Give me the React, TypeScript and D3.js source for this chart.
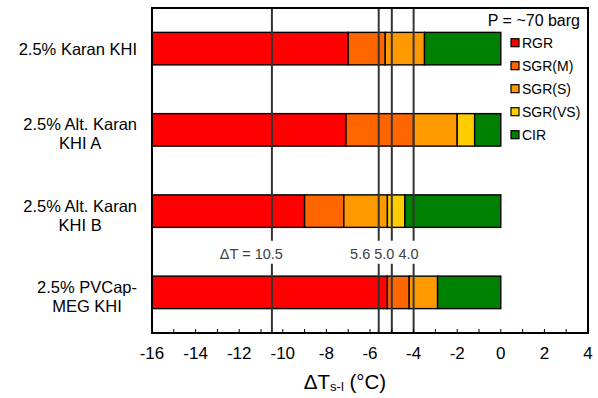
import { useEffect, useRef } from "react";
import * as d3 from "d3";

// bar labels (one entry per line)
const categories = [
  ["2.5% Karan KHI"],
  ["2.5% Alt. Karan", "KHI A"],
  ["2.5% Alt. Karan", "KHI B"],
  ["2.5% PVCap-", "MEG KHI"],
];

const seriesNames = ["RGR", "SGR(M)", "SGR(S)", "SGR(VS)", "CIR"];
const seriesColors = ["#ff0000", "#ff6600", "#ff9900", "#ffcc00", "#008000"];

// width of each region (°C), stacked from -16
const rgr = [9.0, 8.9, 7.0, 10.8];
const sgrM = [1.7, 3.1, 1.8, 1.0];
const sgrS = [1.8, 2.0, 2.0, 1.3];
const sgrVS = [0, 0.8, 0.8, 0];
const cir = [3.5, 1.2, 4.4, 2.9];

const refLines = [-10.5, -5.6, -5.0, -4.0];
const xTicks = d3.range(-16, 5, 1);

const W = 598;
const H = 398;
const margin = { top: 8, right: 10, bottom: 65, left: 152 };

const App = () => {
  const labelsRef = useRef<SVGGElement>(null);

  const x = d3.scaleLinear().domain([-16, 4]).range([margin.left, W - margin.right]);
  const y = d3
    .scaleBand()
    .domain(categories.map((_, i) => String(i)))
    .range([margin.top, H - margin.bottom])
    .paddingInner(0.6)
    .paddingOuter(0.3);

  const rows = categories.map((_, i) => ({
    RGR: rgr[i],
    "SGR(M)": sgrM[i],
    "SGR(S)": sgrS[i],
    "SGR(VS)": sgrVS[i],
    CIR: cir[i],
  }));
  const stacked = d3.stack<any>().keys(seriesNames)(rows);

  const top = margin.top;
  const bottom = H - margin.bottom;
  const gapMid = (y("2")! + y.bandwidth() + y("3")!) / 2;
  const font = "'Liberation Sans', Arial, sans-serif";

  // right-align each label block, centring its lines
  useEffect(() => {
    const g = d3.select(labelsRef.current);
    g.selectAll<SVGGElement, unknown>("g.lbl").each(function () {
      const w = this.getBBox().width;
      d3.select(this)
        .selectAll("text")
        .attr("x", margin.left - 15 - w / 2);
    });
  }, []);

  return (
    <svg width={W} height={H} style={{ position: "absolute", left: 0, top: 0 }} fontFamily={font}>
      <rect x={0} y={0} width={W} height={H} fill="#fff" />

      {stacked.map((s, si) =>
        s.map((d, i) =>
          d[1] - d[0] > 0 ? (
            <rect
              key={`${si}-${i}`}
              x={x(-16 + d[0])}
              y={y(String(i))}
              width={x(-16 + d[1]) - x(-16 + d[0])}
              height={y.bandwidth()}
              fill={seriesColors[si]}
              stroke="#000"
              strokeWidth={1.4}
            />
          ) : null
        )
      )}

      {refLines.map((v) => (
        <g key={v} stroke="#333" strokeWidth={2}>
          <line x1={x(v)} x2={x(v)} y1={top} y2={gapMid - 11} />
          <line x1={x(v)} x2={x(v)} y1={gapMid + 12} y2={bottom} />
        </g>
      ))}
      <text x={x(-10.5) + 11} y={gapMid + 7} fontSize={14.5} fill="#404040" textAnchor="end">
        ΔT = 10.5
      </text>
      <text x={x(-4.0) + 5} y={gapMid + 7} fontSize={14.5} fill="#404040" textAnchor="end">
        5.6 5.0 4.0
      </text>

      <rect
        x={x(-16)}
        y={top}
        width={x(4) - x(-16)}
        height={bottom - top}
        fill="none"
        stroke="#000"
        strokeWidth={2}
      />

      {xTicks.map((t) => (
        <g key={t}>
          <line x1={x(t)} x2={x(t)} y1={bottom} y2={bottom - 4} stroke="#000" strokeWidth={1} />
          {t % 2 === 0 && (
            <text x={x(t)} y={bottom + 26} fontSize={17} textAnchor="middle" fill="#000">
              {t}
            </text>
          )}
        </g>
      ))}

      <text x={345} y={389} fontSize={20.5} textAnchor="middle" fill="#000">
        ΔT
        <tspan fontSize={13} dy={2}>s-l</tspan>
        <tspan dy={-2}> (°C)</tspan>
      </text>

      <g ref={labelsRef} fontSize={16.5} fill="#000">
        {categories.map((lines, i) => {
          const c = y(String(i))! + y.bandwidth() / 2;
          return (
            <g key={i} className="lbl">
              {lines.map((ln, li) => (
                <text
                  key={li}
                  textAnchor="middle"
                  x={margin.left - 60}
                  y={lines.length === 1 ? c + 6 : c + 0.5 + li * 19}
                >
                  {ln}
                </text>
              ))}
            </g>
          );
        })}
      </g>

      <text x={580} y={26} fontSize={16} textAnchor="end" fill="#000">
        P = ~70 barg
      </text>
      {seriesNames.map((name, i) => (
        <g key={name} transform={`translate(511,${42.7 + i * 23})`}>
          <rect x={0} y={-4} width={8} height={8} fill={seriesColors[i]} stroke="#000" strokeWidth={1.2} />
          <text x={11} y={5} fontSize={14} fill="#000">
            {name}
          </text>
        </g>
      ))}
    </svg>
  );
};

export default App;
